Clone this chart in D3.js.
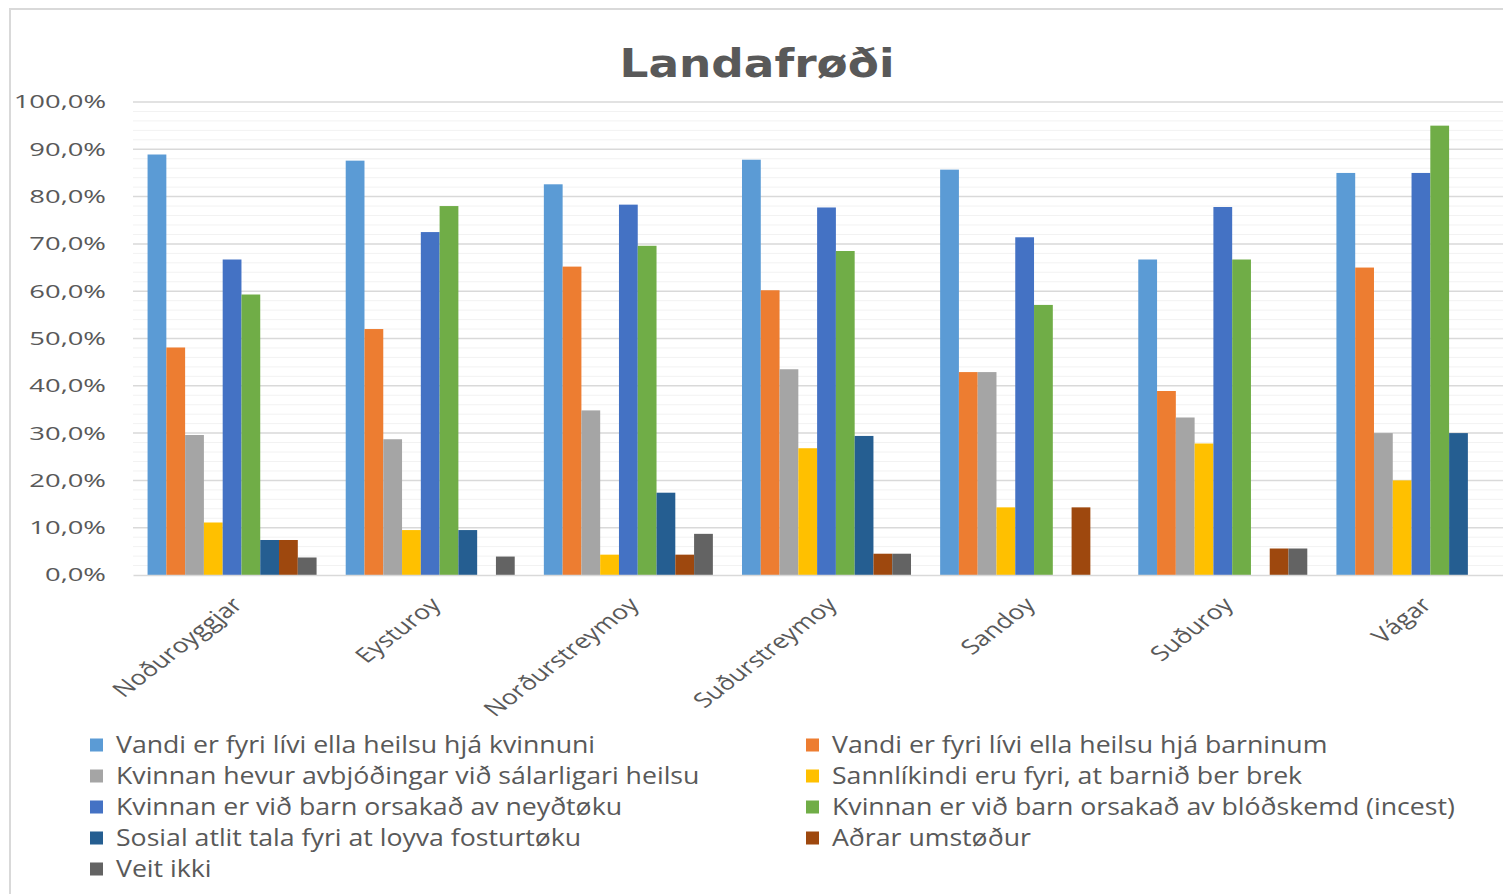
<!DOCTYPE html>
<html>
<head>
<meta charset="utf-8">
<script src="https://cdn.jsdelivr.net/npm/d3@7"></script>
<style>
  html, body { margin: 0; padding: 0; background: #ffffff; }
  svg { display: block; }
</style>
</head>
<body>
<svg id="chart" width="1503" height="894"></svg>
<script>
// ---------- DATA ----------
const title = "Landafrøði";
const categories = ["Noðuroyggjar", "Eysturoy", "Norðurstreymoy", "Suðurstreymoy", "Sandoy", "Suðuroy", "Vágar"];
const seriesNames = [
  "Vandi er fyri lívi ella heilsu hjá kvinnuni",
  "Vandi er fyri lívi ella heilsu hjá barninum",
  "Kvinnan hevur avbjóðingar við sálarligari heilsu",
  "Sannlíkindi eru fyri, at barnið ber brek",
  "Kvinnan er við barn orsakað av neyðtøku",
  "Kvinnan er við barn orsakað av blóðskemd (incest)",
  "Sosial atlit tala fyri at loyva fosturtøku",
  "Aðrar umstøður",
  "Veit ikki"
];
const seriesColors = ["#5B9BD5", "#ED7D31", "#A5A5A5", "#FFC000", "#4472C4", "#70AD47", "#255E91", "#9E480E", "#636363"];
// values in percent, one array per series, ordered like categories
const vKvinnuni   = [88.9, 87.6, 82.6, 87.8, 85.7, 66.7, 85.0];
const vBarninum   = [48.1, 52.0, 65.2, 60.2, 42.9, 38.9, 65.0];
const vSalarlig   = [29.6, 28.7, 34.8, 43.5, 42.9, 33.3, 30.0];
const vBrek       = [11.1,  9.5,  4.3, 26.8, 14.3, 27.8, 20.0];
const vNeydtoku   = [66.7, 72.5, 78.3, 77.7, 71.4, 77.8, 85.0];
const vBlodskemd  = [59.3, 78.0, 69.6, 68.5, 57.1, 66.7, 95.0];
const vSosial     = [ 7.4,  9.5, 17.4, 29.4,  0.0,  0.0, 30.0];
const vAdrar      = [ 7.4,  0.0,  4.3,  4.5, 14.3,  5.6,  0.0];
const vVeitIkki   = [ 3.7,  3.9,  8.7,  4.5,  0.0,  5.6,  0.0];
const seriesValues = [vKvinnuni, vBarninum, vSalarlig, vBrek, vNeydtoku, vBlodskemd, vSosial, vAdrar, vVeitIkki];
const yMajorTicks = [0, 10, 20, 30, 40, 50, 60, 70, 80, 90, 100];

// ---------- LAYOUT ----------
const W = 1503, H = 894;
const plot = { left: 133, right: 1520, top: 102, bottom: 575 };
const textColor = "#595959";
const fontFam = "'Open Sans', 'Noto Sans', sans-serif";

const svg = d3.select("#chart");

// frame
svg.append("path")
  .attr("d", `M10,${H} L10,9 L${W},9`)
  .attr("fill", "none").attr("stroke", "#d9d9d9").attr("stroke-width", 2);

// scales
const y = d3.scaleLinear().domain([0, 100]).range([plot.bottom, plot.top]);
const x0 = d3.scaleBand().domain(categories).range([plot.left, plot.right])
  .paddingInner(0.147).paddingOuter(0.0735);
const x1 = d3.scaleBand().domain(d3.range(seriesNames.length)).range([0, x0.bandwidth()]).padding(0);

// minor gridlines
svg.append("g").selectAll("line")
  .data(d3.range(0, 101, 2).filter(v => v % 10 !== 0))
  .join("line")
  .attr("x1", plot.left).attr("x2", plot.right)
  .attr("y1", d => y(d)).attr("y2", d => y(d))
  .attr("stroke", "#f2f2f2").attr("stroke-width", 1);

// major gridlines
svg.append("g").selectAll("line")
  .data(yMajorTicks.filter(v => v > 0))
  .join("line")
  .attr("x1", plot.left).attr("x2", plot.right)
  .attr("y1", d => y(d)).attr("y2", d => y(d))
  .attr("stroke", "#d9d9d9").attr("stroke-width", 1.5);

// bars
const groups = svg.append("g").selectAll("g")
  .data(categories)
  .join("g")
  .attr("transform", d => `translate(${x0(d)},0)`);

groups.selectAll("rect")
  .data((c, ci) => seriesValues.map((arr, si) => ({ si, v: arr[ci] })))
  .join("rect")
  .attr("x", d => x1(d.si))
  .attr("width", x1.bandwidth())
  .attr("y", d => y(d.v))
  .attr("height", d => y(0) - y(d.v))
  .attr("fill", d => seriesColors[d.si]);

// y axis
const locale = d3.formatLocale({ decimal: ",", thousands: ".", grouping: [3], currency: ["", "€"] });
const fmt = v => locale.format(".1f")(v) + "%";
const sxY = 1.48;
const yAxis = svg.append("g")
  .attr("transform", `translate(${plot.left},0)`)
  .call(d3.axisLeft(y).tickValues(yMajorTicks).tickFormat(fmt).tickSize(0));
yAxis.select(".domain").remove();
yAxis.selectAll("text")
  .attr("x", -27 / sxY)
  .attr("transform", `scale(${sxY},1)`)
  .attr("fill", textColor)
  .style("font-family", fontFam)
  .style("font-size", "18.5px")
  .attr("text-anchor", "end");

// x axis
const xAxis = svg.append("g")
  .attr("transform", `translate(0,${plot.bottom})`)
  .call(d3.axisBottom(x0).tickSize(0).tickSizeOuter(0));
xAxis.select(".domain").attr("stroke", "#d9d9d9").attr("stroke-width", 1.5);
xAxis.selectAll("text")
  .attr("x", null).attr("y", null).attr("dy", null)
  .attr("transform", "translate(12,31) scale(1.3,1) rotate(-45)")
  .attr("text-anchor", "end")
  .attr("fill", textColor)
  .style("font-family", fontFam)
  .style("font-size", "20.5px");

// title
svg.append("text")
  .attr("transform", `translate(757,77) scale(1.17,1)`)
  .attr("text-anchor", "middle")
  .attr("fill", textColor)
  .style("font-family", "'DejaVu Sans', sans-serif")
  .style("font-weight", "bold")
  .style("font-size", "38.8px")
  .text(title);

// legend
const legendCols = [90, 806];
const legendRowY = [745, 776, 807, 838, 869];
const sxL = 1.135;
const legend = svg.append("g").selectAll("g")
  .data(seriesNames.map((n, i) => ({ n, i })))
  .join("g")
  .attr("transform", d => `translate(${legendCols[d.i % 2]},${legendRowY[Math.floor(d.i / 2)]})`);
legend.append("rect")
  .attr("x", 0).attr("y", -6.5).attr("width", 13).attr("height", 13)
  .attr("fill", d => seriesColors[d.i]);
legend.append("text")
  .attr("transform", `translate(26,8.3) scale(${sxL},1)`)
  .attr("fill", textColor)
  .style("font-family", fontFam)
  .style("font-size", "23.5px")
  .text(d => d.n);
</script>
</body>
</html>
